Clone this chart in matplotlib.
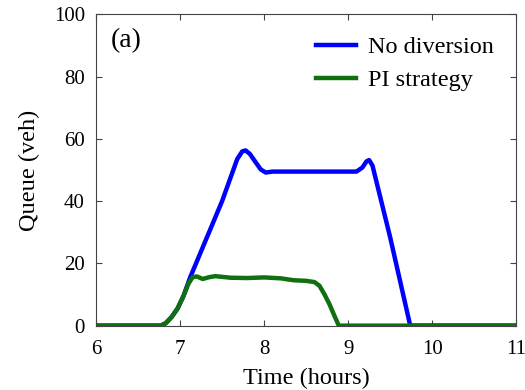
import numpy as np
import matplotlib.pyplot as plt

plt.rcParams['font.family'] = ['Liberation Serif', 'DejaVu Serif']

# queue over time
t_nodiv = [6.0, 6.77, 6.83, 6.9, 6.97, 7.04, 7.12, 7.5, 7.68, 7.74, 7.78, 7.83,
           7.9, 7.96, 8.02, 8.1, 8.5, 9.0, 9.1, 9.17, 9.22, 9.25, 9.29, 9.5,
           9.74, 11.0]
q_nodiv = [0, 0, 0.8, 2.8, 5.5, 9.5, 15.5, 40, 53.5, 56, 56.3, 55.2,
           52.5, 50.2, 49.2, 49.5, 49.5, 49.5, 49.5, 50.8, 52.8, 53.2, 51.5, 28.5,
           0, 0]

t_pi = [6.0, 6.77, 6.83, 6.9, 6.97, 7.04, 7.1, 7.15, 7.2, 7.27, 7.35, 7.42,
        7.6, 7.8, 8.0, 8.2, 8.35, 8.5, 8.6, 8.66, 8.72, 8.78, 8.84, 8.89, 11.0]
q_pi = [0, 0, 0.8, 2.8, 5.5, 9.5, 13.5, 15.6, 15.8, 15.0, 15.6, 15.9,
        15.4, 15.3, 15.5, 15.2, 14.6, 14.4, 14.0, 12.8, 10.0, 6.8, 3.0, 0, 0]

fig = plt.figure(figsize=(5.25, 3.9), dpi=100)
ax = fig.add_axes([0.183, 0.165, 0.8, 0.798])

ax.plot(t_nodiv, q_nodiv, color='#0000ff', lw=3.2, label='No diversion')
ax.plot(t_pi, q_pi, color='#107010', lw=3.2, label='PI strategy')

ax.set_xlim(6, 11)
ax.set_ylim(0, 100)
ax.set_xticks(np.arange(6, 12, 1))
ax.set_yticks(np.arange(0, 101, 20))
ax.tick_params(direction='in', top=True, right=True, labelsize=15, length=4,
               color='#444444')
ax.tick_params(axis='x', pad=10)
ax.tick_params(axis='y', pad=8)
for s in ax.spines.values():
    s.set_color('#444444')

ax.set_xlabel('Time (hours)', fontsize=17.5, labelpad=7)
ax.set_ylabel('Queue (veh)', fontsize=17.5, labelpad=10)
ax.text(6.17, 91.5, '(a)', fontsize=20, ha='left', va='center')

ax.legend(loc='upper right', frameon=False, fontsize=17.5, handlelength=1.65,
          handletextpad=0.5, borderaxespad=0.5, labelspacing=0.45)

fig.savefig('out.png', dpi=100)
